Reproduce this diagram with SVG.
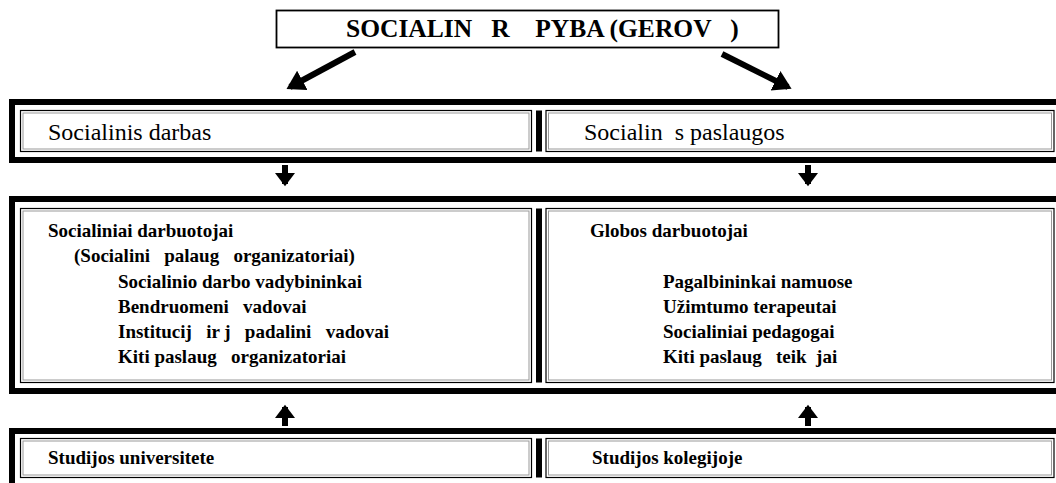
<svg xmlns="http://www.w3.org/2000/svg" width="1056" height="483" viewBox="0 0 1056 483">
<style>
.t{font-family:'Liberation Serif','Times New Roman',serif;fill:#000;white-space:pre}
.b{font-weight:bold;font-size:19px}
.r{font-size:24px}
.h{font-weight:bold;font-size:25.5px}
.outer{fill:none;stroke:#000;stroke-width:6}
.cell{fill:#fff;stroke:#000;stroke-width:1.2}
.cin{fill:none;stroke:#999;stroke-width:1}
.sh{stroke:#000;stroke-width:6;fill:none}
</style>
<defs>
<marker id="ah" markerUnits="userSpaceOnUse" markerWidth="24" markerHeight="24" refX="14" refY="11" orient="auto" viewBox="0 0 24 22">
<path d="M0,0 L18,11 L0,22 Z" fill="#000"/>
</marker>
<marker id="av" markerUnits="userSpaceOnUse" markerWidth="20" markerHeight="20" refX="10" refY="9" orient="auto" viewBox="0 0 12 18">
<path d="M0,0 L12,9 L0,18 Z" fill="#000"/>
</marker>
</defs>

<g id="top">
<rect x="276.5" y="10.5" width="502" height="37" fill="#fff" stroke="#000" stroke-width="1.8"/>
<text class="t h" x="346" y="37">SOCIALIN   R    PYBA (GEROV   )</text>
</g>

<g id="band1">
<rect class="outer" x="12" y="102" width="1060" height="58"/>
<rect class="cell" x="20.5" y="110.5" width="511" height="41"/>
<rect class="cin" x="23" y="113" width="506" height="36"/>
<rect class="cell" x="546" y="110.5" width="508" height="41"/>
<rect class="cin" x="548.5" y="113" width="503" height="36"/>
<rect x="536" y="110.5" width="6" height="41" fill="#000"/>
<text class="t r" x="48" y="140">Socialinis darbas</text>
<text class="t r" x="584" y="140">Socialin  s paslaugos</text>
</g>

<g id="band2">
<rect class="outer" x="12" y="199" width="1060" height="192"/>
<rect class="cell" x="20.5" y="208.5" width="511" height="174"/>
<rect class="cin" x="23" y="211" width="506" height="169"/>
<rect class="cell" x="546" y="208.5" width="508" height="174"/>
<rect class="cin" x="548.5" y="211" width="503" height="169"/>
<rect x="536" y="208.5" width="6" height="174" fill="#000"/>
<text class="t b" x="48" y="237">Socialiniai darbuotojai</text>
<text class="t b" x="74" y="262">(Socialini   palaug   organizatoriai)</text>
<text class="t b" x="118" y="288">Socialinio darbo vadybininkai</text>
<text class="t b" x="118" y="313">Bendruomeni   vadovai</text>
<text class="t b" x="118" y="338">Institucij   ir j   padalini   vadovai</text>
<text class="t b" x="118" y="363">Kiti paslaug   organizatoriai</text>
<text class="t b" x="590" y="237">Globos darbuotojai</text>
<text class="t b" x="663" y="288">Pagalbininkai namuose</text>
<text class="t b" x="663" y="313">Užimtumo terapeutai</text>
<text class="t b" x="663" y="338">Socialiniai pedagogai</text>
<text class="t b" x="663" y="363">Kiti paslaug   teik  jai</text>
</g>

<g id="band3">
<rect class="outer" x="12" y="431" width="1060" height="60"/>
<rect class="cell" x="20.5" y="438.5" width="511" height="39"/>
<rect class="cin" x="23" y="441" width="506" height="34"/>
<rect class="cell" x="546" y="438.5" width="508" height="39"/>
<rect class="cin" x="548.5" y="441" width="503" height="34"/>
<rect x="536" y="438.5" width="6" height="39" fill="#000"/>
<text class="t b" x="48" y="464">Studijos universitete</text>
<text class="t b" x="592" y="464">Studijos kolegijoje</text>
</g>

<g id="connectors">
<line class="sh" x1="355" y1="52" x2="290" y2="87" marker-end="url(#ah)"/>
<line class="sh" x1="722" y1="54" x2="788" y2="87" marker-end="url(#ah)"/>
<line class="sh" x1="285" y1="165" x2="285" y2="184" marker-end="url(#av)"/>
<line class="sh" x1="808" y1="165" x2="808" y2="184" marker-end="url(#av)"/>
<line class="sh" x1="285" y1="426" x2="285" y2="407" marker-end="url(#av)"/>
<line class="sh" x1="808" y1="426" x2="808" y2="407" marker-end="url(#av)"/>
</g>
</svg>
